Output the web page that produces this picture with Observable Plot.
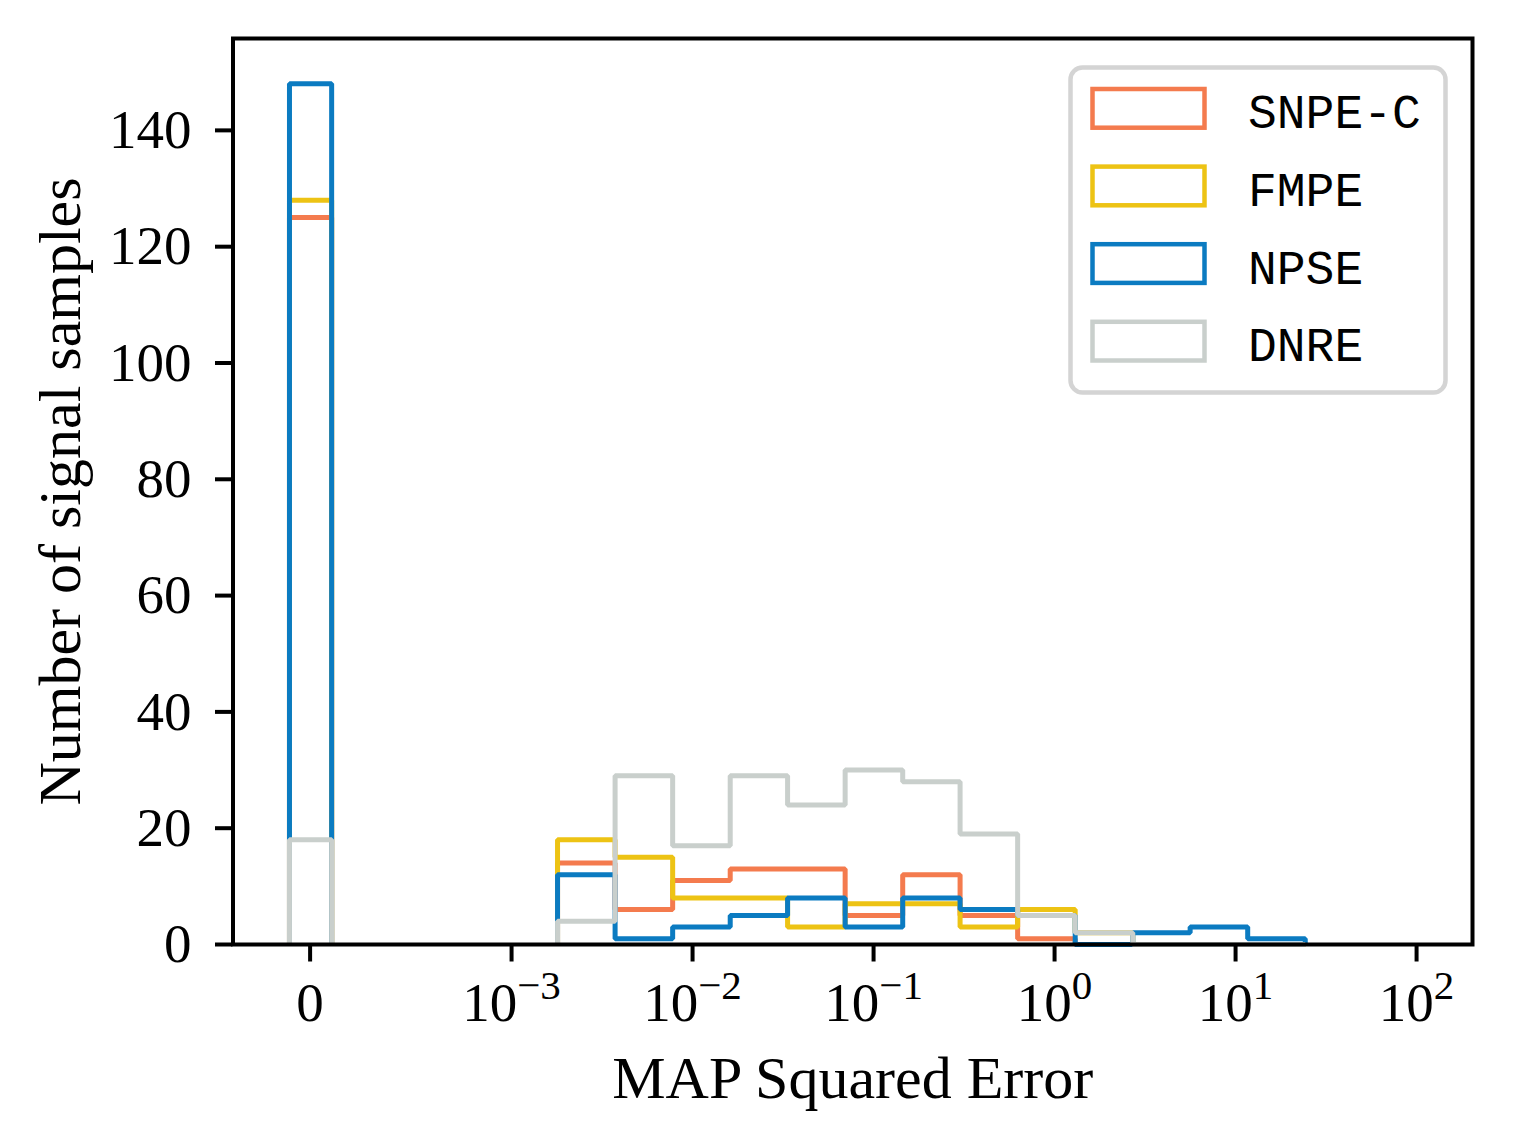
<!DOCTYPE html>
<html><head><meta charset="utf-8">
<script src="https://cdn.jsdelivr.net/npm/d3@7"></script>
<script src="https://cdn.jsdelivr.net/npm/@observablehq/plot@0.6"></script>
<style>body{margin:0;background:#fff} #chart{position:relative;width:1513px;height:1145px}</style>
</head><body><div id="chart"></div>
<script>
// ---- data ----
const methods = ["SNPE-C", "FMPE", "NPSE", "DNRE"];
const colors = ["#F47B4E", "#EDC314", "#0B7BC1", "#C9CFCC"];
// bin holding the exact-zero errors (its place on the log10 axis)
const zeroBin = [-4.227, -3.994];
const zeroCounts = [125, 128, 148, 18];
// log10 bin edges of the non-zero errors
const logEdges = [-2.746, -2.428, -2.110, -1.792, -1.475, -1.157, -0.839, -0.522, -0.204, 0.114, 0.432, 0.749, 1.067, 1.385];
const countsSNPE = [14, 6, 11, 13, 13, 5, 12, 5, 1, 0, 0, 0, 0];
const countsFMPE = [18, 15, 8, 8, 3, 7, 7, 3, 6, 2, 0, 0, 0];
const countsNPSE = [12, 1, 3, 5, 8, 3, 8, 6, 5, 0, 2, 3, 1];
const countsDNRE = [4, 29, 17, 29, 24, 30, 28, 19, 5, 2, 0, 0, 0];
const xTickPos = [-4.113, -3, -2, -1, 0, 1, 2];
const xTickLabels = ["0", "10^−3", "10^−2", "10^−1", "10^0", "10^1", "10^2"];
const yTicks = [0, 20, 40, 60, 80, 100, 120, 140];

const allCounts = [countsSNPE, countsFMPE, countsNPSE, countsDNRE];

function stepPoints(counts, zc) {
  const pts = [];
  pts.push({x: zeroBin[0], y: 0, seg: 0}, {x: zeroBin[0], y: zc, seg: 0},
           {x: zeroBin[1], y: zc, seg: 0}, {x: zeroBin[1], y: 0, seg: 0});
  pts.push({x: logEdges[0], y: 0, seg: 1});
  counts.forEach((c, i) => {
    pts.push({x: logEdges[i], y: c, seg: 1}, {x: logEdges[i + 1], y: c, seg: 1});
  });
  pts.push({x: logEdges[logEdges.length - 1], y: 0, seg: 1});
  return pts;
}

const lineMarks = methods.map((m, i) =>
  Plot.line(stepPoints(allCounts[i], zeroCounts[i]), {
    x: "x", y: "y", z: "seg", stroke: colors[i], strokeWidth: 5,
    strokeLinejoin: "miter", strokeLinecap: "butt"
  })
);

const svg = Plot.plot({
  width: 1513, height: 1145,
  marginLeft: 232.5, marginRight: 41, marginTop: 38, marginBottom: 201,
  style: {fontFamily: "Liberation Serif", fontSize: "55px", background: "white", color: "black"},
  x: {type: "linear", domain: [-4.539, 2.309]},
  y: {domain: [0, 155.8]},
  marks: [
    ...lineMarks,
    Plot.axisX(xTickPos, {tickSize: 17.5, tickPadding: 20, strokeWidth: 4,
      tickFormat: d => xTickLabels[xTickPos.indexOf(d)], label: null}),
    Plot.axisY(yTicks, {tickSize: 17.5, tickPadding: 24, strokeWidth: 4, label: null}),
    Plot.frame({stroke: "black", strokeWidth: 4}),
    Plot.text(["MAP Squared Error"], {frameAnchor: "bottom", lineAnchor: "bottom", textAnchor: "middle", dy: 153, fontSize: 60}),
    Plot.text(["Number of signal samples"], {frameAnchor: "left", lineAnchor: "bottom", textAnchor: "middle", rotate: -90, dx: -153.5, fontSize: 60})
  ]
});

// superscripts on the log tick labels
d3.select(svg).selectAll('g[aria-label="x-axis tick label"] text').each(function () {
  const s = this.textContent;
  if (s.includes("^")) {
    const [b, e] = s.split("^");
    const t = d3.select(this);
    t.text(null);
    t.append("tspan").text(b);
    t.append("tspan").attr("dy", "-0.55em").attr("font-size", "41px").text(e);
  }
});

// legend inside the frame
const leg = d3.select(svg).append("g").attr("text-anchor", "start");
leg.append("rect").attr("x", 1070.5).attr("y", 67.5).attr("width", 375).attr("height", 325)
  .attr("rx", 12).attr("fill", "white").attr("fill-opacity", 0.8)
  .attr("stroke", "#d4d4d4").attr("stroke-width", 4.5);
methods.forEach((m, i) => {
  leg.append("rect").attr("x", 1092.5).attr("y", 89 + i * 77.6).attr("width", 112).attr("height", 38.7)
    .attr("fill", "none").attr("stroke", colors[i]).attr("stroke-width", 4.5);
  leg.append("text").attr("x", 1248).attr("y", 128.3 + i * 77.6).attr("text-anchor", "start")
    .attr("font-family", "Liberation Mono").attr("font-size", 48).attr("fill", "black").text(m);
});

document.getElementById("chart").appendChild(svg);
</script>
</body></html>
